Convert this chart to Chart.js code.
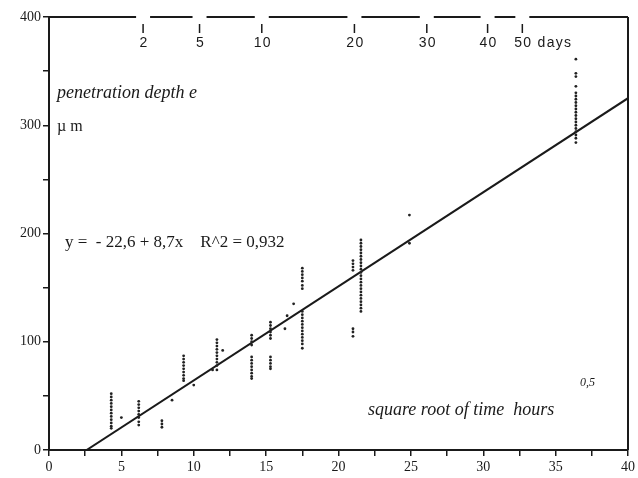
<!DOCTYPE html>
<html lang="en">
<head>
  <meta charset="UTF-8" />
  <title>Penetration depth vs square root of time</title>
  <script src="https://cdn.jsdelivr.net/npm/chart.js"></script>
  <style>
    body { margin: 0; background: #fff; }
    #wrap { width: 638px; height: 478px; }
  </style>
</head>
<body>
  <div id="wrap"><canvas id="depthChart"></canvas></div>

  <script>
    // measured depths (um), grouped by sqrt(time in hours)
    const clusterX = [4.3, 5.0, 6.2, 7.8, 8.5, 9.3, 10.0, 11.6, 11.3, 12.0, 14.0, 15.3, 16.3, 16.45, 16.9, 17.5, 21.0, 21.55, 24.9, 36.4];
    const clusterY = [
      [52, 49, 46, 43, 40, 37, 34, 31, 28, 25, 22, 20],
      [30],
      [45, 42, 39, 36, 33, 30, 26, 23],
      [27, 24, 21],
      [46],
      [87, 84, 81, 78, 75, 72, 69, 66, 64],
      [60],
      [102, 99, 96, 93, 90, 87, 84, 81, 78, 74],
      [74],
      [92],
      [106, 103, 100, 97, 86, 83, 80, 77, 74, 71, 68, 66],
      [118, 115, 112, 109, 106, 103, 86, 83, 80, 77, 75],
      [112],
      [124],
      [135],
      [168, 165, 162, 159, 156, 152, 149, 128, 125, 122, 119, 116, 113, 110, 107, 104, 101, 98, 94],
      [175, 172, 169, 166, 112, 109, 105],
      [194, 191, 188, 185, 182, 179, 176, 173, 170, 167, 164, 161, 158, 155, 152, 149, 146, 143, 140, 137, 134, 131, 128],
      [217, 191],
      [361, 348, 345, 336, 330, 327, 324, 321, 318, 315, 312, 309, 306, 303, 300, 297, 294, 291, 288, 284]
    ];

    // regression line y = -22,6 + 8,7x
    const fitX = [2.6, 40];
    const fitY = [0, 325];

    // top axis: days, placed on the sqrt(hours) scale
    const dayTickPos = [6.5, 10.4, 14.7, 21.1, 26.1, 30.3, 32.7];
    const dayLabels = ['2', '5', '10', '20', '30', '40', '50 days'];

    const points = [];
    clusterX.forEach((x, i) => clusterY[i].forEach(y => points.push({ x, y })));
    const fitLine = fitX.map((x, i) => ({ x, y: fitY[i] }));

    const INK = '#1a1a1a';
    const serif = '"Liberation Serif", "DejaVu Serif", serif';

    const decor = {
      id: 'decor',
      afterDraw(chart) {
        const { ctx, chartArea: a, scales: { x } } = chart;
        ctx.save();
        ctx.strokeStyle = INK;
        ctx.fillStyle = INK;

        // right frame
        ctx.lineWidth = 2;
        ctx.beginPath();
        ctx.moveTo(a.right, a.top);
        ctx.lineTo(a.right, a.bottom);
        ctx.stroke();

        // top frame, broken at each day tick
        const px = dayTickPos.map(v => x.getPixelForValue(v));
        let start = a.left;
        ctx.beginPath();
        px.forEach(p => {
          ctx.moveTo(start, a.top);
          ctx.lineTo(p - 7, a.top);
          start = p + 7;
        });
        ctx.moveTo(start, a.top);
        ctx.lineTo(a.right, a.top);
        ctx.stroke();

        ctx.lineWidth = 1.5;
        px.forEach(p => {
          ctx.beginPath();
          ctx.moveTo(p, a.top + 7);
          ctx.lineTo(p, a.top + 16);
          ctx.stroke();
        });

        ctx.font = '14px "Liberation Sans", Arial, sans-serif';
        ctx.letterSpacing = '1.3px';
        ctx.textBaseline = 'middle';
        ctx.textAlign = 'left';
        px.forEach((p, i) => {
          const num = dayLabels[i].split(' ')[0];
          const w = ctx.measureText(num).width;
          ctx.fillText(dayLabels[i], p - w / 2 + 1, a.top + 26);
        });
        ctx.letterSpacing = '0px';

        // annotations
        ctx.font = 'italic 18px ' + serif;
        ctx.fillText('penetration depth e', 57, 93);
        ctx.font = '16px ' + serif;
        ctx.fillText('\u00b5 m', 57, 127);
        ctx.font = '17px ' + serif;
        ctx.fillText('y =  - 22,6 + 8,7x    R^2 = 0,932', 65, 243);
        ctx.font = 'italic 18px ' + serif;
        ctx.fillText('square root of time  hours', 368, 410);
        ctx.font = 'italic 12px ' + serif;
        ctx.fillText('0,5', 580, 383);
        ctx.restore();
      }
    };

    new Chart(document.getElementById('depthChart'), {
      type: 'scatter',
      data: {
        datasets: [
          {
            data: points,
            pointRadius: 1.4,
            pointBackgroundColor: '#222',
            pointBorderWidth: 0
          },
          {
            type: 'line',
            data: fitLine,
            borderColor: INK,
            borderWidth: 2,
            pointRadius: 0,
            fill: false
          }
        ]
      },
      options: {
        responsive: true,
        maintainAspectRatio: false,
        animation: false,
        layout: { padding: { top: 17, right: 8 } },
        plugins: { legend: { display: false }, tooltip: { enabled: false } },
        scales: {
          x: {
            type: 'linear',
            min: 0,
            max: 40,
            afterFit: s => { s.height = 28; },
            border: { color: INK, width: 2 },
            grid: { drawOnChartArea: false, tickLength: 6, color: INK, lineWidth: 1.5 },
            ticks: {
              stepSize: 2.5,
              autoSkip: false,
              maxRotation: 0,
              padding: 3,
              color: INK,
              font: { family: serif, size: 14 },
              callback: v => (v % 5 === 0 ? v : '')
            }
          },
          y: {
            min: 0,
            max: 400,
            afterFit: s => { s.width = 49; },
            border: { color: INK, width: 2 },
            grid: { drawOnChartArea: false, tickLength: 6, color: INK, lineWidth: 1.5 },
            ticks: {
              stepSize: 50,
              padding: 2,
              color: INK,
              font: { family: serif, size: 14 },
              callback: v => (v % 100 === 0 ? v : '')
            }
          }
        }
      },
      plugins: [decor]
    });
  </script>
</body>
</html>
